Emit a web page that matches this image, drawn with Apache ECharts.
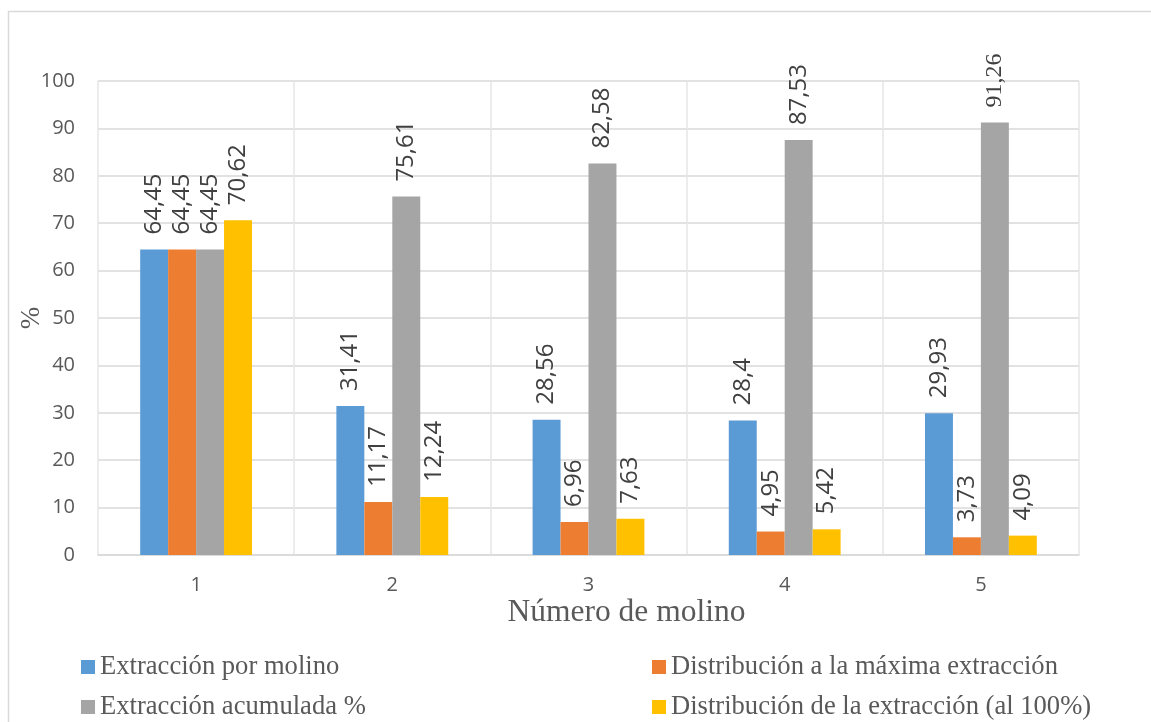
<!DOCTYPE html>
<html>
<head>
<meta charset="utf-8">
<script src="https://cdn.jsdelivr.net/npm/echarts@6/dist/echarts.min.js"></script>
<style>
  html, body { margin: 0; padding: 0; background: #fff; }
  #chart { width: 1151px; height: 722px; }
</style>
</head>
<body>
<div id="chart"></div>
<script>
// Mill numbers on the category axis
const categories = ['1', '2', '3', '4', '5'];

// Series names (legend entries)
const seriesNames = [
  'Extracción por molino',
  'Distribución a la máxima extracción',
  'Extracción acumulada %',
  'Distribución de la extracción (al 100%)'
];

// Values in percent per mill
const extraccionPorMolino = [64.45, 31.41, 28.56, 28.4, 29.93];
const distribucionMaxima = [64.45, 11.17, 6.96, 4.95, 3.73];
const extraccionAcumulada = [64.45, 75.61, 82.58, 87.53, 91.26];
const distribucionAl100 = [70.62, 12.24, 7.63, 5.42, 4.09];

const colors = ['#5B9BD5', '#ED7D31', '#A5A5A5', '#FFC000'];
const sansFont = '"Open Sans", "Noto Sans", sans-serif';
const serifFont = '"Liberation Serif", "DejaVu Serif", serif';

// Decimal comma formatting for labels
const fmt = v => String(v).replace('.', ',');

function makeSeries(name, values, color, serifLast) {
  return {
    name: name,
    type: 'bar',
    barGap: '0%',
    barCategoryGap: '43%',
    itemStyle: { color: color },
    label: {
      show: true,
      position: 'top',
      rotate: 90,
      align: 'left',
      verticalAlign: 'middle',
      distance: 15,
      fontSize: 24,
      fontFamily: sansFont,
      color: '#404040',
      formatter: p => fmt(p.value)
    },
    data: values.map((v, i) => {
      if (serifLast && i === values.length - 1) {
        return { value: v, label: { fontFamily: serifFont } };
      }
      return v;
    })
  };
}

// Two-column legend: each column is its own vertical legend
function legendColumn(left, names) {
  return {
    orient: 'vertical',
    left: left,
    top: 653,
    padding: 0,
    itemWidth: 14,
    itemHeight: 14,
    itemGap: 12,
    icon: 'rect',
    data: names,
    textStyle: { fontFamily: serifFont, fontSize: 26.6, color: '#595959', lineHeight: 28 }
  };
}

const chart = echarts.init(document.getElementById('chart'));
chart.setOption({
  animation: false,
  backgroundColor: '#ffffff',
  color: colors,
  graphic: [{
    type: 'rect',
    shape: { x: 8.5, y: 11.5, width: 1300, height: 900 },
    style: { fill: 'none', stroke: '#d9d9d9', lineWidth: 1.5 },
    silent: true
  }],
  grid: { left: 98, right: 72, top: 81, bottom: 167, outerBoundsMode: 'none' },
  legend: [
    legendColumn(81, [seriesNames[0], seriesNames[2]]),
    legendColumn(652, [seriesNames[1], seriesNames[3]])
  ],
  xAxis: {
    type: 'category',
    data: categories,
    name: 'Número de molino',
    nameLocation: 'middle',
    nameGap: 42,
    nameMoveOverlap: false,
    nameTextStyle: {
      fontFamily: serifFont, fontSize: 31.5, color: '#595959',
      padding: [0, 0, 0, 76]
    },
    axisLine: { lineStyle: { color: '#d9d9d9', width: 1.5 } },
    axisTick: { show: false },
    axisLabel: { fontFamily: sansFont, fontSize: 20, color: '#595959', margin: 20 },
    splitLine: { show: true, lineStyle: { color: '#e6e6e6', width: 1.5 } }
  },
  yAxis: {
    type: 'value',
    min: 0,
    max: 100,
    interval: 10,
    name: '%',
    nameLocation: 'middle',
    nameRotate: 90,
    nameGap: 53,
    nameMoveOverlap: false,
    nameTextStyle: { fontFamily: serifFont, fontSize: 27, color: '#595959' },
    axisLine: { show: false },
    axisTick: { show: false },
    axisLabel: { fontFamily: sansFont, fontSize: 20, color: '#595959', margin: 23 },
    splitLine: { lineStyle: { color: '#d9d9d9', width: 1.5 } }
  },
  series: [
    makeSeries(seriesNames[0], extraccionPorMolino, colors[0], false),
    makeSeries(seriesNames[1], distribucionMaxima, colors[1], false),
    makeSeries(seriesNames[2], extraccionAcumulada, colors[2], true),
    makeSeries(seriesNames[3], distribucionAl100, colors[3], false)
  ]
});
</script>
</body>
</html>
